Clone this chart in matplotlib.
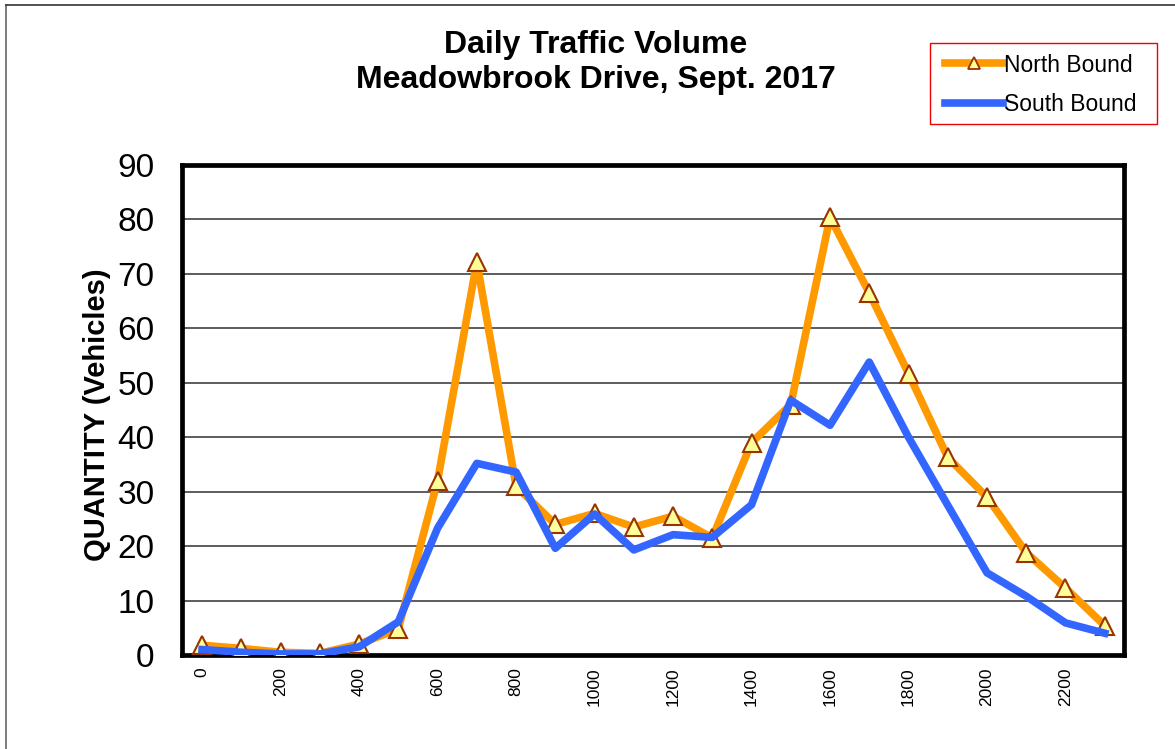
import matplotlib
matplotlib.use("Agg")
import matplotlib.pyplot as plt
from matplotlib.lines import Line2D
from matplotlib.patches import Rectangle

plt.rcParams['font.family'] = ['Liberation Sans', 'DejaVu Sans']

hours = [0, 100, 200, 300, 400, 500, 600, 700, 800, 900, 1000, 1100,
         1200, 1300, 1400, 1500, 1600, 1700, 1800, 1900, 2000, 2100, 2200, 2300]
north_bound = [1.8, 1.2, 0.5, 0.3, 2.0, 4.8, 32.0, 72.2, 31.0, 24.0, 26.0, 23.5,
               25.5, 21.5, 39.0, 46.0, 80.4, 66.5, 51.7, 36.3, 29.0, 18.8, 12.3, 5.4]
south_bound = [1.0, 0.5, 0.2, 0.2, 1.5, 6.1, 23.3, 35.2, 33.6, 19.6, 25.9, 19.3,
               22.1, 21.6, 27.6, 46.8, 42.2, 53.8, 40.0, 27.5, 15.1, 10.8, 5.9, 4.0]
tick_labels = [str(h) if i % 2 == 0 else '' for i, h in enumerate(hours)]
y_ticks = [0, 10, 20, 30, 40, 50, 60, 70, 80, 90]

W, H = 1175, 749
fig = plt.figure(figsize=(W / 100, H / 100), dpi=100)
ax = fig.add_axes([0.1553, 0.1255, 0.8016, 0.6542])

x = list(range(len(hours)))
ax.plot(x, north_bound, color='#FF9900', lw=5.5, marker='^', markersize=13,
        markerfacecolor='#FFFF99', markeredgecolor='#993300', markeredgewidth=1.5,
        label='North Bound', zorder=3, solid_joinstyle='round')
ax.plot(x, south_bound, color='#3366FF', lw=5.5, label='South Bound', zorder=4,
        solid_joinstyle='round')

ax.set_xlim(-0.5, len(hours) - 0.5)
ax.set_ylim(0, 90)
ax.set_yticks(y_ticks)
ax.set_yticklabels([str(v) for v in y_ticks], fontsize=24)
ax.set_xticks(x)
ax.set_xticklabels(tick_labels, rotation=90, fontsize=12.5)
ax.tick_params(axis='both', length=0)
ax.tick_params(axis='y', pad=20)
ax.tick_params(axis='x', pad=9)
ax.yaxis.grid(True, color='#303030', lw=1.1)
ax.set_axisbelow(True)
for s in ax.spines.values():
    s.set_linewidth(3.4)
    s.set_color('black')

ax.set_ylabel('QUANTITY (Vehicles)', fontsize=21, fontweight='bold')
ax.yaxis.set_label_coords(-0.0758, 0.49)

fig.text(0.507, 0.94, 'Daily Traffic Volume', ha='center', va='center',
         fontsize=23, fontweight='bold')
fig.text(0.507, 0.893, 'Meadowbrook Drive, Sept. 2017', ha='center', va='center',
         fontsize=23, fontweight='bold')

# legend frame
fig.add_artist(Rectangle((930 / W, 1 - 124 / H), 227 / W, 81 / H,
                         transform=fig.transFigure, fill=False,
                         edgecolor='#EE0000', lw=1.0))
handles = [
    Line2D([], [], color='#FF9900', lw=5.5, marker='^', markersize=9,
           markerfacecolor='#FFFF99', markeredgecolor='#993300', markeredgewidth=1.3),
    Line2D([], [], color='#3366FF', lw=5.5),
]
leg = fig.legend(handles, ['North Bound', 'South Bound'], loc='center left',
                 bbox_to_anchor=(945 / W, 1 - 85 / H), fontsize=16.5,
                 frameon=False, handlelength=2.53, handletextpad=0.03,
                 labelspacing=0.74, borderpad=0, borderaxespad=0)

# outer chart border (left and top edges)
fig.add_artist(Line2D([5.5 / W, 5.5 / W], [0, 1 - 4.5 / H],
                      transform=fig.transFigure, color='#666666', lw=1.2))
fig.add_artist(Line2D([5.5 / W, 1], [1 - 4.5 / H, 1 - 4.5 / H],
                      transform=fig.transFigure, color='#333333', lw=1.2))

fig.savefig('out.png', dpi=100)
